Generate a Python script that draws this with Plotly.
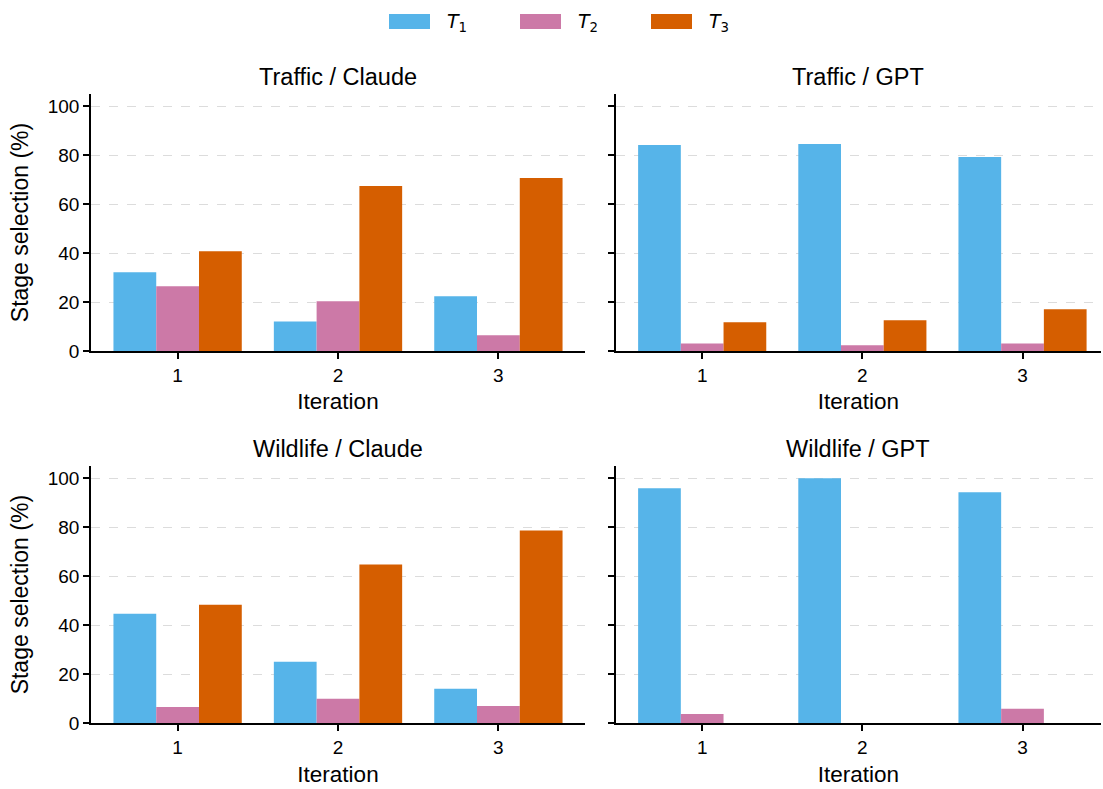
import plotly.graph_objects as go
from plotly.subplots import make_subplots

iterations = [1, 2, 3]
series_names = ["T1", "T2", "T3"]
legend_labels = ["<i>T</i><sub>1</sub>", "<i>T</i><sub>2</sub>", "<i>T</i><sub>3</sub>"]
colors = ["#56B4E9", "#CC79A7", "#D55E00"]

panel_titles = ["Traffic / Claude", "Traffic / GPT", "Wildlife / Claude", "Wildlife / GPT"]

traffic_claude_T1 = [32.2, 12.1, 22.4]
traffic_claude_T2 = [26.5, 20.3, 6.4]
traffic_claude_T3 = [40.8, 67.4, 70.7]

traffic_gpt_T1 = [84.2, 84.6, 79.3]
traffic_gpt_T2 = [3.1, 2.3, 3.1]
traffic_gpt_T3 = [11.7, 12.6, 17.1]

wildlife_claude_T1 = [44.7, 25.1, 14.1]
wildlife_claude_T2 = [6.7, 10.0, 7.1]
wildlife_claude_T3 = [48.4, 64.8, 78.7]

wildlife_gpt_T1 = [95.9, 100.0, 94.3]
wildlife_gpt_T2 = [3.8, 0.0, 5.9]
wildlife_gpt_T3 = [0.0, 0.0, 0.0]

panels = [
    (1, 1, [traffic_claude_T1, traffic_claude_T2, traffic_claude_T3]),
    (1, 2, [traffic_gpt_T1, traffic_gpt_T2, traffic_gpt_T3]),
    (2, 1, [wildlife_claude_T1, wildlife_claude_T2, wildlife_claude_T3]),
    (2, 2, [wildlife_gpt_T1, wildlife_gpt_T2, wildlife_gpt_T3]),
]

W, H = 1103, 789
FONT = "Liberation Sans, Arial, Helvetica, sans-serif"

fig = make_subplots(rows=2, cols=2)

for r, c, vals in panels:
    for name, v, col in zip(series_names, vals, colors):
        fig.add_trace(
            go.Bar(x=iterations, y=v, name=name, marker=dict(color=col, line=dict(width=0)),
                   showlegend=False),
            row=r, col=c,
        )

def px_x(p):
    return p / W

def px_y(p):
    return (H - p) / H

xdom_left = [px_x(91), px_x(585)]
xdom_right = [px_x(615.7), px_x(1101)]
ydom_top = [px_y(351), px_y(94)]
ydom_bot = [px_y(723.3), px_y(466)]

axis_common = dict(
    showline=True, linecolor="black", linewidth=1.5,
    ticks="outside", ticklen=6, tickwidth=1.5, tickcolor="black",
    tickfont=dict(family=FONT, size=19, color="black"),
    zeroline=False, mirror=False, automargin=False,
)

layout_axes = {}
xranges = {1: [0.46, 3.54], 2: [0.46, 3.49]}
for idx, (r, c, _) in enumerate(panels, start=1):
    xa = "xaxis" if idx == 1 else f"xaxis{idx}"
    ya = "yaxis" if idx == 1 else f"yaxis{idx}"
    layout_axes[xa] = dict(
        axis_common,
        domain=xdom_left if c == 1 else xdom_right,
        range=xranges[c], tickvals=iterations, ticktext=[str(i) for i in iterations],
        showgrid=False,
        title=dict(text="Iteration", font=dict(family=FONT, size=22.5, color="black"), standoff=9),
    )
    ya_dict = dict(
        axis_common,
        domain=ydom_top if r == 1 else ydom_bot,
        range=[0, 105], tickvals=[0, 20, 40, 60, 80, 100],
        showticklabels=(c == 1),
        showgrid=True, gridcolor="#dcdcdc", gridwidth=0.8, griddash="dash",
    )
    if c == 1:
        ya_dict["title"] = dict(text="Stage selection (%)",
                                font=dict(family=FONT, size=23, color="black"), standoff=13)
    layout_axes[ya] = ya_dict

annotations = []
title_centers = [
    ((xdom_left[0] + xdom_left[1]) / 2, px_y(77)),
    ((xdom_right[0] + xdom_right[1]) / 2, px_y(77)),
    ((xdom_left[0] + xdom_left[1]) / 2, px_y(449)),
    ((xdom_right[0] + xdom_right[1]) / 2, px_y(449)),
]
for t, (x, y) in zip(panel_titles, title_centers):
    annotations.append(dict(text=t, x=x, y=y, xref="paper", yref="paper",
                            xanchor="center", yanchor="middle", showarrow=False,
                            font=dict(family=FONT, size=23.5, color="black")))

# legend (manual, at top)
shapes = []
legend_rect_x = [389, 520, 651]
for lx, lab, col in zip(legend_rect_x, legend_labels, colors):
    shapes.append(dict(type="rect", xref="paper", yref="paper",
                       x0=px_x(lx), x1=px_x(lx + 41), y0=px_y(29), y1=px_y(14),
                       fillcolor=col, line=dict(width=0)))
    annotations.append(dict(text=lab, x=px_x(lx + 56), y=px_y(22), xref="paper", yref="paper",
                            xanchor="left", yanchor="middle", showarrow=False,
                            font=dict(family="DejaVu Sans, sans-serif", size=19, color="black")))

fig.update_layout(
    width=W, height=H,
    margin=dict(l=0, r=0, t=0, b=0, autoexpand=False),
    paper_bgcolor="white", plot_bgcolor="white",
    barmode="group", bargap=0.2, bargroupgap=0,
    showlegend=False,
    annotations=annotations, shapes=shapes,
    font=dict(family=FONT, color="black"),
    **layout_axes,
)

post = (
    "document.documentElement.style.margin='0';"
    "document.documentElement.style.overflow='hidden';"
    "document.body.style.margin='0';"
    "document.body.style.overflow='hidden';"
)

fig.write_html("out.html", config={"displayModeBar": False}, post_script=post)
